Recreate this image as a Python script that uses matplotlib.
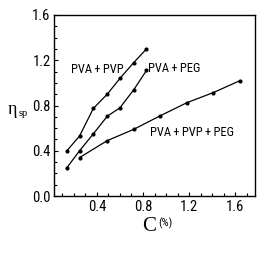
import matplotlib
matplotlib.use("Agg")
import matplotlib.pyplot as plt
from matplotlib.ticker import MultipleLocator

# concentration (%) and specific viscosity
c_pvp = [0.14, 0.25, 0.37, 0.49, 0.60, 0.72, 0.83]
eta_pvp = [0.40, 0.53, 0.775, 0.90, 1.04, 1.18, 1.30]

c_peg = [0.14, 0.25, 0.37, 0.49, 0.60, 0.72, 0.83]
eta_peg = [0.25, 0.40, 0.55, 0.705, 0.78, 0.94, 1.11]

c_mix = [0.25, 0.49, 0.72, 0.95, 1.18, 1.41, 1.64]
eta_mix = [0.34, 0.49, 0.59, 0.71, 0.825, 0.915, 1.02]

x_ticks = [0.4, 0.8, 1.2, 1.6]
y_ticks = [0.0, 0.4, 0.8, 1.2, 1.6]

narrow = ['Liberation Sans Narrow', 'Roboto Condensed', 'Open Sans Condensed',
          'Liberation Sans', 'DejaVu Sans']
serif = ['Liberation Serif', 'DejaVu Serif']
ts = '\u2009'

fig = plt.figure(figsize=(2.64, 2.54), dpi=100)
ax = fig.add_axes([0.205, 0.228, 0.761, 0.713])

for xs, ys in [(c_pvp, eta_pvp), (c_peg, eta_peg), (c_mix, eta_mix)]:
    ax.plot(xs, ys, color='black', lw=0.9, marker='o', ms=2)

ax.set_xlim(0.03, 1.77)
ax.set_ylim(0.0, 1.6)
ax.set_xticks(x_ticks)
ax.set_yticks(y_ticks)
ax.set_xticklabels([f'{v:.1f}' for v in x_ticks], family=narrow, fontsize=10.5)
ax.set_yticklabels([f'{v:.1f}' for v in y_ticks], family=narrow, fontsize=10.5)
ax.xaxis.set_minor_locator(MultipleLocator(0.1))
ax.yaxis.set_minor_locator(MultipleLocator(0.1))
ax.tick_params(which='both', direction='in', top=False, right=False,
               width=0.8, color='black')
ax.tick_params(which='major', length=3, pad=2.5)
ax.tick_params(which='minor', length=2)
for s in ax.spines.values():
    s.set_linewidth(1.0)

ax.text(0.40, 1.12, f'PVA{ts}+{ts}PVP', family=narrow, fontsize=9, ha='center', va='center')
ax.text(0.845, 1.13, f'PVA{ts}+{ts}PEG', family=narrow, fontsize=9, ha='left', va='center')
ax.text(1.22, 0.56, f'PVA{ts}+{ts}PVP{ts}+{ts}PEG', family=narrow, fontsize=9,
        ha='center', va='center')

fig.text(0.045, 0.568, 'η', family=serif, fontsize=13, ha='center', va='center')
fig.text(0.088, 0.555, 'sp', family=serif, fontsize=7.5, ha='center', va='center')
fig.text(0.563, 0.11, 'C', family=serif, fontsize=15, ha='center', va='center')
fig.text(0.625, 0.122, '(%)', family=narrow, fontsize=8, ha='center', va='center')

fig.savefig('out.png', dpi=100)
